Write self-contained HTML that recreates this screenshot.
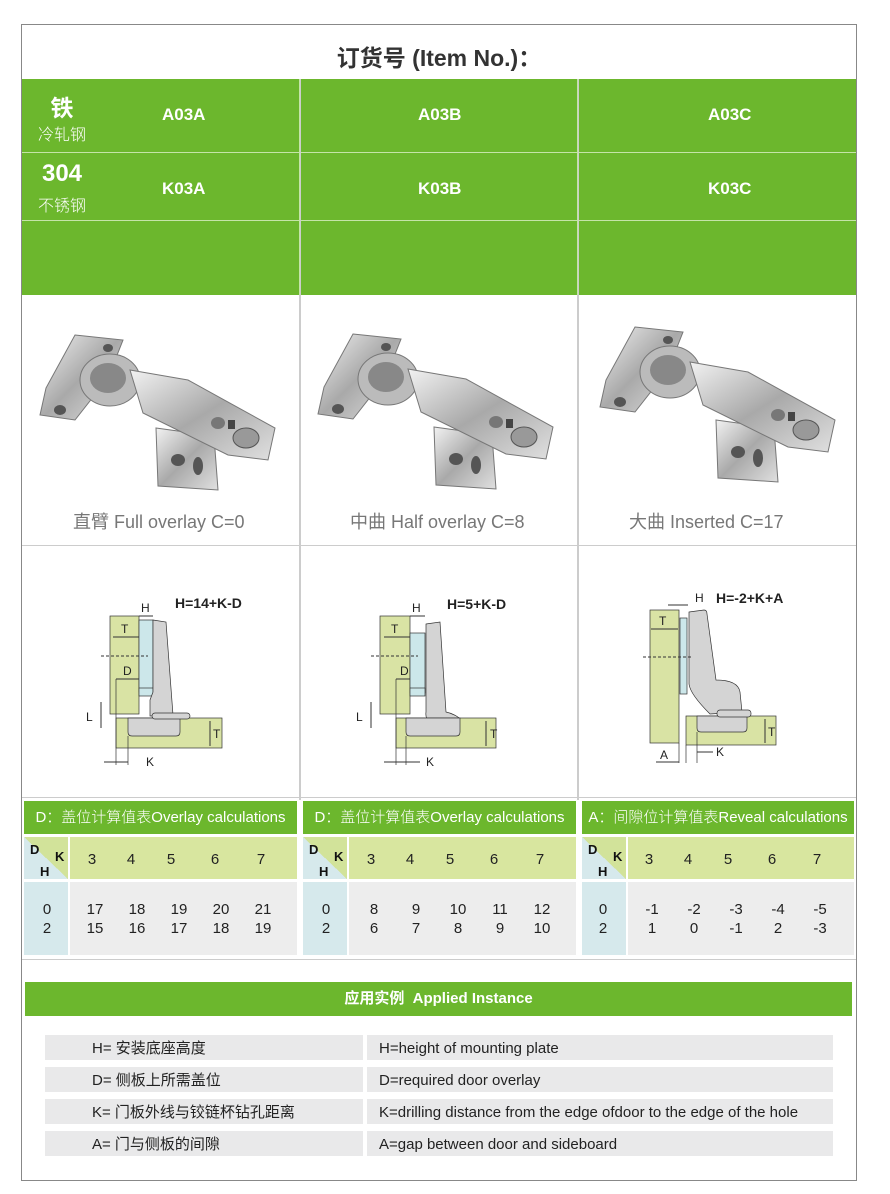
<!DOCTYPE html>
<html><head><meta charset="utf-8"><style>
*{margin:0;padding:0;box-sizing:border-box}
body{width:890px;height:1194px;background:#fff;position:relative;font-family:"Liberation Sans","Noto Sans CJK SC",sans-serif;overflow:hidden}
.a{position:absolute}
.g{background:#6cb72d}
.w{color:#fff}
.c{text-align:center}
.lab{font-size:18px;color:#777}
.th{font-size:15px;color:#fff;font-weight:300;text-align:center;line-height:33px}
.n{font-size:15px;color:#222;position:absolute;text-align:center;width:30px}
.row{position:absolute;background:#e9e9ea;height:25px;font-size:15px;color:#222;line-height:27px}
</style></head><body>
<div class="a" style="left:21px;top:24px;width:836px;height:1157px;border:1px solid #888"></div>
<div class="a c" style="left:22px;top:39px;width:834px;font-size:23px;font-weight:bold;color:#333">订货号 (Item No.)：</div>
<div class="a g" style="left:22px;top:79px;width:834px;height:216px"></div>
<div class="a" style="left:22px;top:152px;width:834px;height:1px;background:#c5e4a8"></div>
<div class="a" style="left:22px;top:220px;width:834px;height:1px;background:#c5e4a8"></div>
<div class="a" style="left:299px;top:79px;width:2px;height:721px;background:#ccc"></div>
<div class="a" style="left:577px;top:79px;width:2px;height:721px;background:#ccc"></div>
<div class="a" style="left:299px;top:79px;width:1px;height:216px;background:#c5e4a8"></div>
<div class="a" style="left:577px;top:79px;width:1px;height:216px;background:#c5e4a8"></div>
<div class="a w c" style="left:30px;top:89px;width:64px;font-size:23px;font-weight:bold">铁</div>
<div class="a w c" style="left:30px;top:121px;width:64px;font-size:16px;font-weight:300">冷轧钢</div>
<div class="a w c" style="left:30px;top:160px;width:64px;font-size:24px;font-weight:bold">304</div>
<div class="a w c" style="left:30px;top:192px;width:64px;font-size:16px;font-weight:300">不锈钢</div>
<div class="a w" style="left:162px;top:105px;font-size:17px;font-weight:bold">A03A</div>
<div class="a w" style="left:418px;top:105px;font-size:17px;font-weight:bold">A03B</div>
<div class="a w" style="left:708px;top:105px;font-size:17px;font-weight:bold">A03C</div>
<div class="a w" style="left:162px;top:179px;font-size:17px;font-weight:bold">K03A</div>
<div class="a w" style="left:418px;top:179px;font-size:17px;font-weight:bold">K03B</div>
<div class="a w" style="left:708px;top:179px;font-size:17px;font-weight:bold">K03C</div>
<div class="a" style="left:22px;top:545px;width:834px;height:1px;background:#ccc"></div>
<div class="a" style="left:22px;top:797px;width:834px;height:1px;background:#ccc"></div>
<div class="a" style="left:22px;top:959px;width:834px;height:1px;background:#ccc"></div>

<svg class="a" style="left:0;top:0" width="890" height="800">
<defs>
<linearGradient id="m" x1="0" y1="0" x2="1" y2="1"><stop offset="0" stop-color="#f2f2f2"/><stop offset=".5" stop-color="#a9a9a9"/><stop offset="1" stop-color="#e0e0e0"/></linearGradient>
<g id="h">
<polygon points="118,100 176,108 180,162 120,158" fill="url(#m)" stroke="#777"/>
<ellipse cx="140" cy="132" rx="7" ry="6" fill="#555"/><ellipse cx="160" cy="138" rx="5" ry="9" fill="#555"/>
<polygon points="37,7 85,12 70,50 37,92 2,87 8,60" fill="url(#m)" stroke="#777"/>
<ellipse cx="72" cy="52" rx="30" ry="26" fill="#bbb" stroke="#777"/>
<ellipse cx="70" cy="50" rx="18" ry="15" fill="#888"/>
<ellipse cx="70" cy="20" rx="5" ry="4" fill="#555"/><ellipse cx="22" cy="82" rx="6" ry="5" fill="#555"/>
<polygon points="92,42 150,52 237,100 230,132 190,127 105,85" fill="url(#m)" stroke="#777"/>
<ellipse cx="180" cy="95" rx="7" ry="6" fill="#777"/><ellipse cx="208" cy="110" rx="13" ry="10" fill="#999" stroke="#555"/>
<rect x="190" y="92" width="7" height="9" fill="#444"/>
</g>
</defs>
<use href="#h" x="38" y="328"/>
<use href="#h" x="316" y="327"/>
<use href="#h" x="598" y="320"/>
<g font-family="Liberation Sans" font-size="12" fill="#222">
<rect x="110" y="616" width="29" height="98" fill="#d9e3a4" stroke="#333" stroke-width=".7"/>
<rect x="139" y="620" width="14" height="72" fill="#cce7ea" stroke="#333" stroke-width=".7"/>
<rect x="139" y="688" width="14" height="8" fill="#cce7ea" stroke="#333" stroke-width=".7"/>
<polygon points="153,620 166,622 173,715 150,716 150,700 153,692" fill="#d4d4d4" stroke="#333" stroke-width=".7"/>
<rect x="116" y="718" width="106" height="30" fill="#d9e3a4" stroke="#333" stroke-width=".7"/>
<path d="M128,718 v14 q0,4 4,4 h44 q4,0 4,-4 v-14z" fill="#d4d4d4" stroke="#333" stroke-width=".7"/>
<rect x="152" y="713" width="38" height="6" rx="3" fill="#d4d4d4" stroke="#333" stroke-width=".7"/>
<line x1="101" y1="656" x2="148" y2="656" stroke="#333" stroke-dasharray="3,2"/>
<line x1="113" y1="637" x2="139" y2="637" stroke="#333"/><text x="121" y="633">T</text>
<line x1="116" y1="679" x2="139" y2="679" stroke="#333"/><text x="123" y="675">D</text>
<line x1="116" y1="679" x2="116" y2="765" stroke="#333" stroke-width=".7"/>
<line x1="128" y1="736" x2="128" y2="765" stroke="#333" stroke-width=".7"/>
<line x1="104" y1="762" x2="128" y2="762" stroke="#333"/><text x="146" y="766">K</text>
<line x1="139" y1="616" x2="153" y2="616" stroke="#333"/><text x="141" y="612">H</text>
<line x1="101" y1="702" x2="101" y2="728" stroke="#333"/><text x="86" y="721">L</text>
<line x1="210" y1="721" x2="210" y2="746" stroke="#333"/><text x="213" y="738">T</text>
<text x="175" y="608" font-size="14" font-weight="bold">H=14+K-D</text>
</g>
<g font-family="Liberation Sans" font-size="12" fill="#222">
<rect x="380" y="616" width="30" height="98" fill="#d9e3a4" stroke="#333" stroke-width=".7"/>
<rect x="410" y="633" width="15" height="60" fill="#cce7ea" stroke="#333" stroke-width=".7"/>
<rect x="410" y="688" width="15" height="8" fill="#cce7ea" stroke="#333" stroke-width=".7"/>
<path d="M426,624 l14,-2 l6,90 q10,2 18,10 l-34,2 q-5,-6 -4,-12z" fill="#d4d4d4" stroke="#333" stroke-width=".7"/>
<rect x="396" y="718" width="100" height="30" fill="#d9e3a4" stroke="#333" stroke-width=".7"/>
<path d="M406,718 v14 q0,4 4,4 h46 q4,0 4,-4 v-14z" fill="#d4d4d4" stroke="#333" stroke-width=".7"/>
<line x1="371" y1="656" x2="418" y2="656" stroke="#333" stroke-dasharray="3,2"/>
<line x1="384" y1="637" x2="410" y2="637" stroke="#333"/><text x="391" y="633">T</text>
<line x1="396" y1="679" x2="410" y2="679" stroke="#333"/><text x="400" y="675">D</text>
<line x1="396" y1="679" x2="396" y2="765" stroke="#333" stroke-width=".7"/>
<line x1="406" y1="736" x2="406" y2="765" stroke="#333" stroke-width=".7"/>
<line x1="384" y1="762" x2="420" y2="762" stroke="#333"/><text x="426" y="766">K</text>
<line x1="410" y1="616" x2="425" y2="616" stroke="#333"/><text x="412" y="612">H</text>
<line x1="371" y1="702" x2="371" y2="728" stroke="#333"/><text x="356" y="721">L</text>
<line x1="486" y1="721" x2="486" y2="746" stroke="#333"/><text x="490" y="738">T</text>
<text x="447" y="609" font-size="14" font-weight="bold">H=5+K-D</text>
</g>
<g font-family="Liberation Sans" font-size="12" fill="#222">
<rect x="650" y="610" width="29" height="133" fill="#d9e3a4" stroke="#333" stroke-width=".7"/>
<rect x="680" y="618" width="7" height="76" fill="#cce7ea" stroke="#333" stroke-width=".7"/>
<path d="M689,612 l15,-2 q3,0 3,4 l9,66 q22,0 24,12 l2,20 l-32,2 q-20,-20 -21,-30z" fill="#d4d4d4" stroke="#333" stroke-width=".7"/>
<rect x="686" y="716" width="90" height="29" fill="#d9e3a4" stroke="#333" stroke-width=".7"/>
<path d="M697,716 v12 q0,4 4,4 h42 q4,0 4,-4 v-12z" fill="#d4d4d4" stroke="#333" stroke-width=".7"/>
<rect x="717" y="710" width="34" height="7" rx="3" fill="#d4d4d4" stroke="#333" stroke-width=".7"/>
<line x1="643" y1="657" x2="692" y2="657" stroke="#333" stroke-dasharray="3,2"/>
<line x1="651" y1="629" x2="678" y2="629" stroke="#333"/><text x="659" y="625">T</text>
<line x1="668" y1="605" x2="688" y2="605" stroke="#333"/><text x="695" y="602">H</text>
<line x1="679" y1="743" x2="679" y2="763" stroke="#333" stroke-width=".7"/>
<line x1="686" y1="745" x2="686" y2="763" stroke="#333" stroke-width=".7"/>
<line x1="697" y1="732" x2="697" y2="763" stroke="#333" stroke-width=".7"/>
<line x1="656" y1="762" x2="679" y2="762" stroke="#333"/><text x="660" y="759">A</text>
<line x1="697" y1="752" x2="713" y2="752" stroke="#333"/><text x="716" y="756">K</text>
<line x1="765" y1="719" x2="765" y2="743" stroke="#333"/><text x="768" y="736">T</text>
<text x="716" y="603" font-size="14" font-weight="bold">H=-2+K+A</text>
</g>
</svg>
<div class="a lab" style="left:73px;top:508px">直臂 Full overlay C=0</div>
<div class="a lab" style="left:350px;top:508px">中曲 Half overlay C=8</div>
<div class="a lab" style="left:629px;top:508px">大曲 Inserted C=17</div>

<div class="a g th" style="left:24px;top:801px;width:273px">D：盖位计算值表Overlay calculations</div>
<div class="a g th" style="left:303px;top:801px;width:273px">D：盖位计算值表Overlay calculations</div>
<div class="a g th" style="left:582px;top:801px;width:272px">A：间隙位计算值表Reveal calculations</div>

<div class="a" style="left:24px;top:837px;width:44px;height:42px;background:linear-gradient(to top right,#d6e9ec 50%,#d2e39a 50%)"></div>
<div class="a" style="left:70px;top:837px;width:227px;height:42px;background:#d8e69f"></div>
<div class="a" style="left:24px;top:882px;width:44px;height:73px;background:#d6e9ec"></div>
<div class="a" style="left:70px;top:882px;width:227px;height:73px;background:#ededed"></div>
<div class="a" style="left:303px;top:837px;width:44px;height:42px;background:linear-gradient(to top right,#d6e9ec 50%,#d2e39a 50%)"></div>
<div class="a" style="left:349px;top:837px;width:227px;height:42px;background:#d8e69f"></div>
<div class="a" style="left:303px;top:882px;width:44px;height:73px;background:#d6e9ec"></div>
<div class="a" style="left:349px;top:882px;width:227px;height:73px;background:#ededed"></div>
<div class="a" style="left:582px;top:837px;width:44px;height:42px;background:linear-gradient(to top right,#d6e9ec 50%,#d2e39a 50%)"></div>
<div class="a" style="left:628px;top:837px;width:226px;height:42px;background:#d8e69f"></div>
<div class="a" style="left:582px;top:882px;width:44px;height:73px;background:#d6e9ec"></div>
<div class="a" style="left:628px;top:882px;width:226px;height:73px;background:#ededed"></div>

<div style="font-size:13px;font-weight:bold;color:#111">
<div class="a" style="left:30px;top:842px">D</div><div class="a" style="left:55px;top:849px">K</div><div class="a" style="left:40px;top:864px">H</div>
<div class="a" style="left:309px;top:842px">D</div><div class="a" style="left:334px;top:849px">K</div><div class="a" style="left:319px;top:864px">H</div>
<div class="a" style="left:588px;top:842px">D</div><div class="a" style="left:613px;top:849px">K</div><div class="a" style="left:598px;top:864px">H</div>
</div>

<div class="n" style="left:77px;top:851px">3</div><div class="n" style="left:116px;top:851px">4</div><div class="n" style="left:156px;top:851px">5</div><div class="n" style="left:200px;top:851px">6</div><div class="n" style="left:246px;top:851px">7</div>
<div class="n" style="left:32px;top:901px">0</div><div class="n" style="left:32px;top:920px">2</div>
<div class="n" style="left:80px;top:901px">17</div><div class="n" style="left:122px;top:901px">18</div><div class="n" style="left:164px;top:901px">19</div><div class="n" style="left:206px;top:901px">20</div><div class="n" style="left:248px;top:901px">21</div>
<div class="n" style="left:80px;top:920px">15</div><div class="n" style="left:122px;top:920px">16</div><div class="n" style="left:164px;top:920px">17</div><div class="n" style="left:206px;top:920px">18</div><div class="n" style="left:248px;top:920px">19</div>
<div class="n" style="left:356px;top:851px">3</div><div class="n" style="left:395px;top:851px">4</div><div class="n" style="left:435px;top:851px">5</div><div class="n" style="left:479px;top:851px">6</div><div class="n" style="left:525px;top:851px">7</div>
<div class="n" style="left:311px;top:901px">0</div><div class="n" style="left:311px;top:920px">2</div>
<div class="n" style="left:359px;top:901px">8</div><div class="n" style="left:401px;top:901px">9</div><div class="n" style="left:443px;top:901px">10</div><div class="n" style="left:485px;top:901px">11</div><div class="n" style="left:527px;top:901px">12</div>
<div class="n" style="left:359px;top:920px">6</div><div class="n" style="left:401px;top:920px">7</div><div class="n" style="left:443px;top:920px">8</div><div class="n" style="left:485px;top:920px">9</div><div class="n" style="left:527px;top:920px">10</div>
<div class="n" style="left:634px;top:851px">3</div><div class="n" style="left:673px;top:851px">4</div><div class="n" style="left:713px;top:851px">5</div><div class="n" style="left:757px;top:851px">6</div><div class="n" style="left:802px;top:851px">7</div>
<div class="n" style="left:588px;top:901px">0</div><div class="n" style="left:588px;top:920px">2</div>
<div class="n" style="left:637px;top:901px">-1</div><div class="n" style="left:679px;top:901px">-2</div><div class="n" style="left:721px;top:901px">-3</div><div class="n" style="left:763px;top:901px">-4</div><div class="n" style="left:805px;top:901px">-5</div>
<div class="n" style="left:637px;top:920px">1</div><div class="n" style="left:679px;top:920px">0</div><div class="n" style="left:721px;top:920px">-1</div><div class="n" style="left:763px;top:920px">2</div><div class="n" style="left:805px;top:920px">-3</div>

<div class="a g w c" style="left:25px;top:982px;width:827px;height:34px;line-height:34px;font-size:15px;font-weight:bold">应用实例&nbsp; Applied Instance</div>
<div class="row" style="left:45px;top:1035px;width:318px;padding-left:47px">H= 安装底座高度</div>
<div class="row" style="left:367px;top:1035px;width:466px;padding-left:12px">H=height of mounting plate</div>
<div class="row" style="left:45px;top:1067px;width:318px;padding-left:47px">D= 侧板上所需盖位</div>
<div class="row" style="left:367px;top:1067px;width:466px;padding-left:12px">D=required door overlay</div>
<div class="row" style="left:45px;top:1099px;width:318px;padding-left:47px">K= 门板外线与铰链杯钻孔距离</div>
<div class="row" style="left:367px;top:1099px;width:466px;padding-left:12px">K=drilling distance from the edge ofdoor to the edge of the hole</div>
<div class="row" style="left:45px;top:1131px;width:318px;padding-left:47px">A= 门与侧板的间隙</div>
<div class="row" style="left:367px;top:1131px;width:466px;padding-left:12px">A=gap between door and sideboard</div>
</body></html>
